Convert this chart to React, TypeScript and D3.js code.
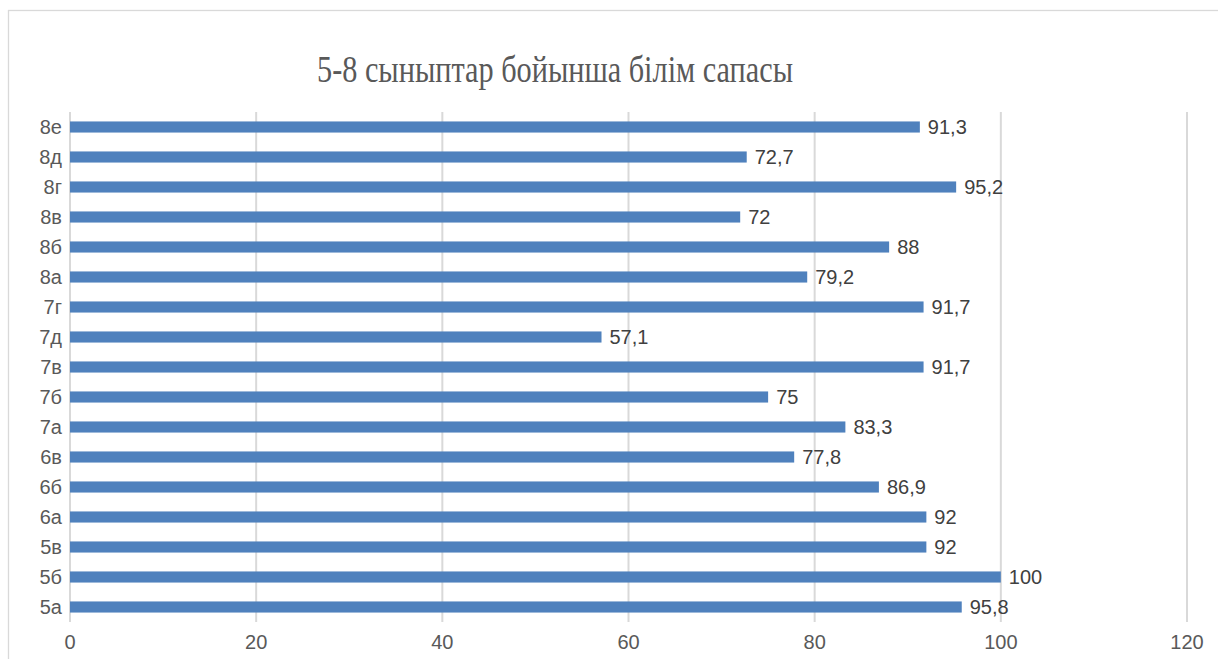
import { useEffect, useRef } from "react";
import * as d3 from "d3";

const title = "5-8 сыныптар бойынша білім сапасы";
// bottom to top, as on the chart
const classes = ["5а", "5б", "5в", "6а", "6б", "6в", "7а", "7б", "7в", "7д", "7г", "8а", "8б", "8в", "8г", "8д", "8е"];
const quality = [95.8, 100, 92, 92, 86.9, 77.8, 83.3, 75, 91.7, 57.1, 91.7, 79.2, 88, 72, 95.2, 72.7, 91.3];
const ticks = [0, 20, 40, 60, 80, 100, 120];

const W = 1218;
const H = 659;

export default function App() {
  const ref = useRef<SVGSVGElement>(null);

  useEffect(() => {
    const svg = d3.select(ref.current);
    svg.selectAll("*").remove();

    const x = d3.scaleLinear().domain([0, 120]).range([70, 1187]);
    const y = d3.scaleBand<string>()
      .domain([...classes].reverse())
      .range([112, 622])
      .paddingInner(0.63)
      .paddingOuter(0.315);

    // chart frame
    svg.append("rect")
      .attr("x", 8.5).attr("y", 10.5)
      .attr("width", W + 20).attr("height", H + 20)
      .attr("fill", "#fff").attr("stroke", "#d9d9d9").attr("stroke-width", 1.3);

    // no serif font in the sandbox, so squeeze the title to the original's width
    svg.append("text")
      .attr("x", 317).attr("y", 82)
      .attr("textLength", 476)
      .attr("lengthAdjust", "spacingAndGlyphs")
      .style("font-family", "\"Liberation Serif\", \"DejaVu Serif\", \"Times New Roman\", serif")
      .attr("font-size", 38)
      .attr("fill", "#595959")
      .text(title);

    // vertical gridlines
    svg.append("g").selectAll("line").data(ticks).join("line")
      .attr("x1", d => x(d)).attr("x2", d => x(d))
      .attr("y1", 112).attr("y2", 622)
      .attr("stroke", "#d9d9d9").attr("stroke-width", 2);

    const font = "'Liberation Sans', Arial, sans-serif";

    svg.append("g").selectAll("text").data(ticks).join("text")
      .attr("x", d => x(d)).attr("y", 649)
      .attr("text-anchor", "middle")
      .attr("font-family", font).attr("font-size", 20)
      .attr("fill", "#595959")
      .text(d => d);

    svg.append("g").selectAll("text").data(classes).join("text")
      .attr("x", 62).attr("y", d => y(d)! + y.bandwidth() / 2)
      .attr("dy", "0.36em")
      .attr("text-anchor", "end")
      .attr("font-family", font).attr("font-size", 20)
      .attr("fill", "#595959")
      .text(d => d);

    svg.append("g").selectAll("rect").data(classes).join("rect")
      .attr("x", x(0))
      .attr("y", d => y(d)!)
      .attr("width", (d, i) => x(quality[i]) - x(0))
      .attr("height", y.bandwidth())
      .attr("fill", "#4f81bd");

    svg.append("g").selectAll("text").data(classes).join("text")
      .attr("x", (d, i) => x(quality[i]) + 8)
      .attr("y", d => y(d)! + y.bandwidth() / 2)
      .attr("dy", "0.36em")
      .attr("font-family", font).attr("font-size", 20)
      .attr("fill", "#404040")
      .text((d, i) => String(quality[i]).replace(".", ","));
  }, []);

  return (
    <svg ref={ref} width={W} height={H} style={{ position: "absolute", left: 0, top: 0 }} />
  );
}
